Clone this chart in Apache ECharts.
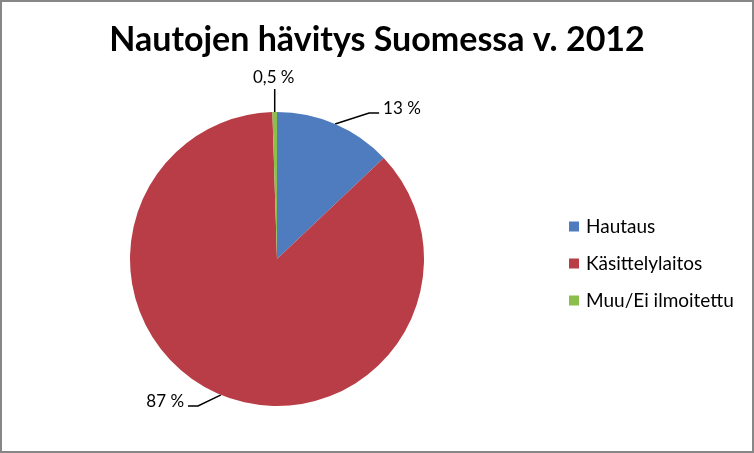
<!DOCTYPE html>
<html>
<head>
<meta charset="utf-8">
<script src="https://cdn.jsdelivr.net/npm/echarts@6/dist/echarts.min.js"></script>
<style>
  html, body { margin: 0; padding: 0; background: #fff; }
  #wrap { position: relative; width: 754px; height: 453px; }
  #chart { position: absolute; left: 0; top: 0; width: 754px; height: 453px; }
  #frame { position: absolute; left: 0; top: 0; width: 754px; height: 453px; box-sizing: border-box; border: 2px solid #878787; pointer-events: none; }
</style>
</head>
<body>
<div id="wrap"><div id="chart"></div><div id="frame"></div></div>
<script>
var titleText = 'Nautojen hävitys Suomessa v. 2012';
var categories = ['Hautaus', 'Käsittelylaitos', 'Muu/Ei ilmoitettu'];
var values = [13, 87, 0.5];
var valueLabels = ['13 %', '87 %', '0,5 %'];
var colors = ['#4F7CBE', '#B93D46', '#8CBE4B'];

// label guide offsets relative to the slice edge point: [dx1, dy1, dx2]
var guideOffsets = [[34, -11, 10], [-23, 11, -10], [0, -23, 0]];

var chart = echarts.init(document.getElementById('chart'), null, { renderer: 'canvas' });
var font = 'Lato, "Open Sans", sans-serif';

chart.setOption({
  animation: false,
  backgroundColor: '#fff',
  title: {
    text: titleText,
    left: 'center',
    top: 18,
    textStyle: { fontFamily: font, fontSize: 34, fontWeight: 'bold', color: '#000' }
  },
  legend: {
    orient: 'vertical',
    left: 564,
    top: 212,
    itemWidth: 10,
    itemHeight: 10,
    itemGap: 18,
    icon: 'rect',
    data: categories,
    textStyle: { fontFamily: font, fontSize: 19, color: '#000', padding: [0, 0, 0, 2] }
  },
  series: [{
    type: 'pie',
    center: [277, 259],
    radius: 147,
    startAngle: 90,
    clockwise: true,
    avoidLabelOverlap: false,
    data: categories.map(function (c, i) {
      return { name: c, value: values[i], itemStyle: { color: colors[i] } };
    }),
    itemStyle: { borderWidth: 0 },
    label: {
      show: true,
      position: 'outside',
      formatter: function (p) { return valueLabels[p.dataIndex]; },
      fontFamily: font,
      fontSize: 17,
      color: '#000'
    },
    labelLine: {
      show: true,
      length: 15,
      length2: 10,
      lineStyle: { color: '#000', width: 1.5 }
    },
    labelLayout: function (p) {
      var pts = p.labelLinePoints;
      if (!pts || !pts.length) return {};
      var s = pts[0];
      var g = guideOffsets[p.dataIndex];
      var m = [s[0] + g[0], s[1] + g[1]];
      var e = [m[0] + g[2], m[1]];
      if (p.dataIndex === 2) {
        return { x: e[0] - 1, y: e[1] - 3, align: 'center', verticalAlign: 'bottom', labelLinePoints: [s, m, e] };
      }
      var right = g[2] > 0;
      return {
        x: e[0] + (right ? 4 : -4),
        y: e[1] - 4,
        align: right ? 'left' : 'right',
        verticalAlign: 'middle',
        labelLinePoints: [s, m, e]
      };
    }
  }]
});
</script>
</body>
</html>
